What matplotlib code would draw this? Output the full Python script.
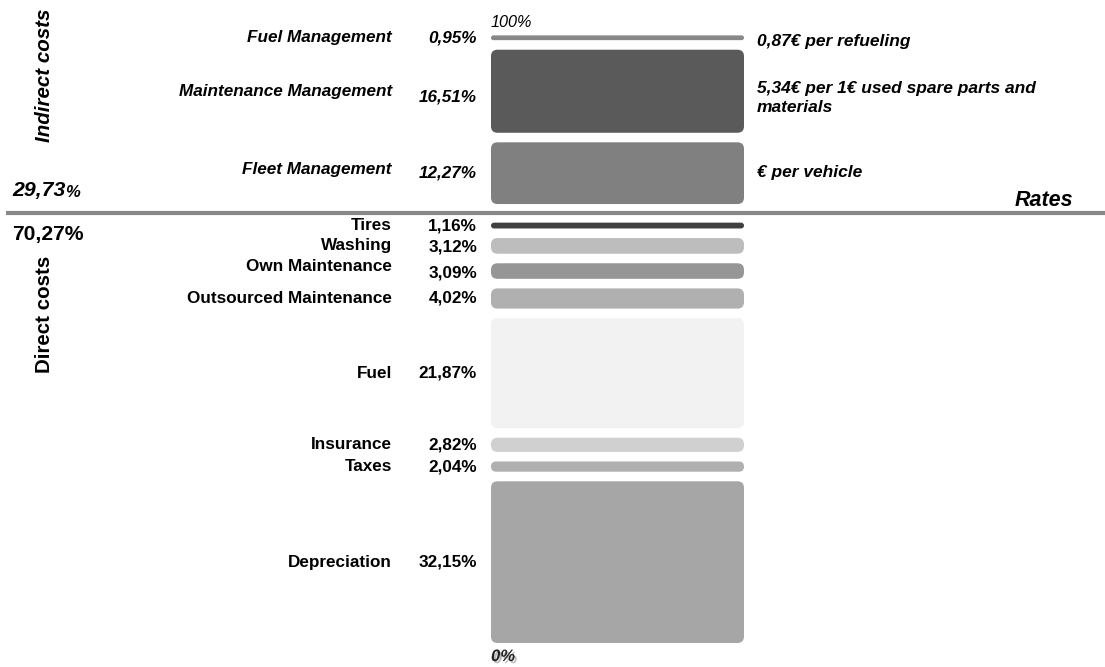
import matplotlib.pyplot as plt
from matplotlib.patches import FancyBboxPatch
import matplotlib.patheffects as pe

plt.rcParams['font.family'] = ['Liberation Sans', 'DejaVu Sans']

# direct costs, bottom to top
direct_labels = ['Depreciation', 'Taxes', 'Insurance', 'Fuel', 'Outsourced Maintenance',
                 'Own Maintenance', 'Washing', 'Tires']
direct_values = [32.15, 2.04, 2.82, 21.87, 4.02, 3.09, 3.12, 1.16]
direct_colors = ['#a6a6a6', '#b0b0b0', '#d0d0d0', '#f2f2f2', '#b0b0b0',
                 '#969696', '#bdbdbd', '#404040']

# indirect costs, bottom to top
indirect_labels = ['Fleet Management', 'Maintenance Management', 'Fuel Management']
indirect_values = [12.27, 16.51, 0.95]
indirect_colors = ['#808080', '#5a5a5a', '#888888']
indirect_rates = ['€ per vehicle', '5,34€ per 1€ used spare parts and\nmaterials',
                  '0,87€ per refueling']

direct_total = '70,27%'
indirect_total = '29,73'

GAP = 1.9
SEP_GAP = 3.7
PX = 5.03  # pixels per percent
X0, X1 = 491, 744
FS = 12.3

# small vertical nudges (label, percent, rate) for the indirect rows, in percent units
nudge = {'Fleet Management': (0.8, 0.1, 0.2),
         'Maintenance Management': (0.0, -1.2, -1.4),
         'Fuel Management': (0.0, 0.0, -0.8)}

fig = plt.figure(figsize=(11.05, 6.67), dpi=100)
ax = fig.add_axes([0, 0, 1, 1])
ax.set_xlim(0, 1105)
ax.set_ylim(-24 / PX, 643 / PX)
ax.axis('off')


def fmt(v):
    return ('%.2f%%' % v).replace('.', ',')


def draw_bar(bottom, value, color):
    r = min(6.5, value * PX / 2)
    p = FancyBboxPatch((X0, bottom), X1 - X0, value,
                       boxstyle='round,pad=0,rounding_size=%f' % r,
                       mutation_aspect=1 / PX, fc=color, ec='none')
    ax.add_patch(p)


bottom = 0
for lab, v, c in zip(direct_labels, direct_values, direct_colors):
    draw_bar(bottom, v, c)
    mid = bottom + v / 2
    ly = mid + (1.0 if lab == 'Own Maintenance' else 0)
    py = mid - (0.3 if lab in ('Washing', 'Own Maintenance') else 0)
    ax.text(392, ly, lab, ha='right', va='center', fontsize=FS, fontweight='bold')
    ax.text(477, py, fmt(v), ha='right', va='center', fontsize=FS, fontweight='bold')
    bottom += v + GAP
bottom = bottom - GAP

sep_y = bottom + SEP_GAP / 2
ax.plot([6, 1105], [sep_y, sep_y], color='#888888', lw=3, solid_capstyle='butt')
bottom += SEP_GAP

for lab, v, c, rate in zip(indirect_labels, indirect_values, indirect_colors, indirect_rates):
    draw_bar(bottom, v, c)
    mid = bottom + v / 2
    dl, dp, dr = nudge[lab]
    ax.text(392, mid + dl, lab, ha='right', va='center',
            fontsize=FS, fontweight='bold', style='italic')
    ax.text(477, mid + dp, fmt(v), ha='right', va='center',
            fontsize=FS, fontweight='bold', style='italic')
    ax.text(757, mid + dr, rate, ha='left', va='center', fontsize=12.5,
            fontweight='bold', style='italic', linespacing=1.35)
    bottom += v + GAP
top = bottom - GAP

ax.text(X0, top + 2.6, '100%', ha='left', va='center', fontsize=11.7, style='italic')
ax.text(X0, -2.7, '0%', ha='left', va='center', fontsize=12, style='italic',
        fontweight='bold', color='#222222',
        path_effects=[pe.SimplePatchShadow(offset=(1.5, -1.5), shadow_rgbFace='#aaaaaa', alpha=0.8),
                      pe.Normal()])

ax.text(1073, sep_y + 2.6, 'Rates', ha='right', va='center', fontsize=15.5,
        fontweight='bold', style='italic')

# totals on the left
t = ax.text(12, sep_y + 4.5, indirect_total, ha='left', va='center', fontsize=15.3,
            fontweight='bold', style='italic')
ax.annotate('%', xycoords=t, xy=(1, 0), va='bottom', ha='left', fontsize=12,
            fontweight='bold', style='italic')
ax.text(12, sep_y - 4.3, direct_total, ha='left', va='center', fontsize=15.2, fontweight='bold')

ax.text(44, (643 - 75) / PX, 'Indirect costs', rotation=90, ha='center', va='center',
        fontsize=14.8, fontweight='bold', style='italic')
ax.text(44, (643 - 314) / PX, 'Direct costs', rotation=90, ha='center', va='center',
        fontsize=14.8, fontweight='bold')

fig.savefig('out.png', dpi=100)
